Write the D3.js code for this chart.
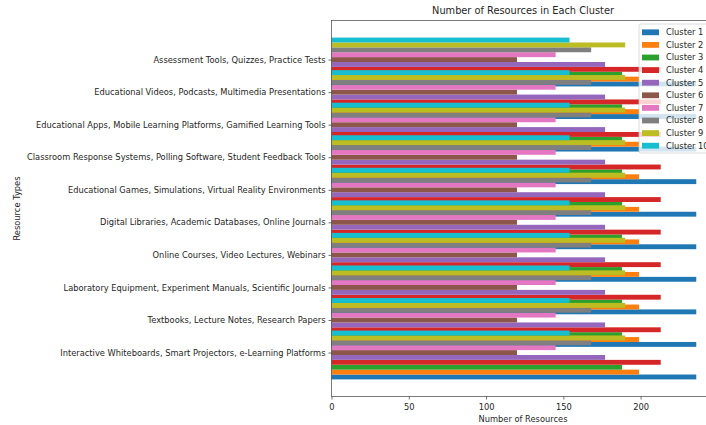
<!DOCTYPE html>
<html>
<head>
<meta charset="utf-8">
<script src="https://cdn.jsdelivr.net/npm/d3@7"></script>
<style>
  body { margin: 0; background: #fff; }
  svg { display: block; font-family: "DejaVu Sans", sans-serif; }
</style>
</head>
<body>
<svg id="chart" width="706" height="425"></svg>
<script>
var resourceTypes = [
  "Interactive Whiteboards, Smart Projectors, e-Learning Platforms",
  "Textbooks, Lecture Notes, Research Papers",
  "Laboratory Equipment, Experiment Manuals, Scientific Journals",
  "Online Courses, Video Lectures, Webinars",
  "Digital Libraries, Academic Databases, Online Journals",
  "Educational Games, Simulations, Virtual Reality Environments",
  "Classroom Response Systems, Polling Software, Student Feedback Tools",
  "Educational Apps, Mobile Learning Platforms, Gamified Learning Tools",
  "Educational Videos, Podcasts, Multimedia Presentations",
  "Assessment Tools, Quizzes, Practice Tests"
];

var clusters = ["Cluster 1", "Cluster 2", "Cluster 3", "Cluster 4", "Cluster 5",
                "Cluster 6", "Cluster 7", "Cluster 8", "Cluster 9", "Cluster 10"];

// one row per cluster, one value per resource type
var counts = [
  [236, 236, 236, 236, 236, 236, 236, 236, 236, 236],
  [199, 199, 199, 199, 199, 199, 199, 199, 199, 199],
  [188, 188, 188, 188, 188, 188, 188, 188, 188, 188],
  [213, 213, 213, 213, 213, 213, 213, 213, 213, 213],
  [177, 177, 177, 177, 177, 177, 177, 177, 177, 177],
  [120, 120, 120, 120, 120, 120, 120, 120, 120, 120],
  [145, 145, 145, 145, 145, 145, 145, 145, 145, 145],
  [168, 168, 168, 168, 168, 168, 168, 168, 168, 168],
  [190, 190, 190, 190, 190, 190, 190, 190, 190, 190],
  [154, 154, 154, 154, 154, 154, 154, 154, 154, 154]
];

var xTicks = [0, 50, 100, 150, 200];

var colors = d3.schemeCategory10;
var barWidth = 0.15;
var fontSize = 8.3;

var plotLeft = 331.5, plotRight = 714.5, plotTop = 20.5, plotBottom = 396.5;
var svg = d3.select("#chart");

var maxVal = d3.max(counts, function(r) { return d3.max(r); });
var x = d3.scaleLinear().domain([0, maxVal * 1.05]).range([plotLeft, plotRight]);

// bars sit at index + i * barWidth, like matplotlib barh offsets
var yLo = -barWidth / 2,
    yHi = (resourceTypes.length - 1) + (clusters.length - 1) * barWidth + barWidth / 2;
var pad = (yHi - yLo) * 0.05;
var y = d3.scaleLinear().domain([yLo - pad, yHi + pad]).range([plotBottom, plotTop]);

var plot = svg.append("g");
counts.forEach(function(row, i) {
  plot.selectAll(null)
    .data(row)
    .enter().append("rect")
    .attr("x", x(0))
    .attr("y", function(d, j) { return y(j + i * barWidth + barWidth / 2); })
    .attr("width", function(d) { return x(d) - x(0); })
    .attr("height", function(d, j) { return y(j + i * barWidth - barWidth / 2) - y(j + i * barWidth + barWidth / 2); })
    .attr("fill", colors[i]);
});

// axes
var xAxis = d3.axisBottom(x).tickValues(xTicks).tickSize(3).tickPadding(5);
var gx = svg.append("g").attr("transform", "translate(0," + plotBottom + ")").call(xAxis);
gx.select(".domain").remove();
gx.selectAll("text").attr("font-size", fontSize).attr("fill", "#262626").attr("font-family", "DejaVu Sans");
gx.selectAll("line").attr("stroke", "#333").attr("stroke-width", 0.7);

var tickPos = resourceTypes.map(function(d, j) { return j + barWidth * clusters.length / 2; });
var yAxis = d3.axisLeft(y).tickValues(tickPos)
  .tickFormat(function(d, j) { return resourceTypes[j]; })
  .tickSize(3).tickPadding(3);
var gy = svg.append("g").attr("transform", "translate(" + plotLeft + ",0)").call(yAxis);
gy.select(".domain").remove();
gy.selectAll("text").attr("font-size", fontSize).attr("fill", "#262626").attr("font-family", "DejaVu Sans");
gy.selectAll("line").attr("stroke", "#333").attr("stroke-width", 0.7);

// spines
svg.append("rect")
  .attr("x", plotLeft).attr("y", plotTop)
  .attr("width", plotRight - plotLeft).attr("height", plotBottom - plotTop)
  .attr("fill", "none").attr("stroke", "#444").attr("stroke-width", 0.7);

// labels
svg.append("text")
  .attr("x", (plotLeft + plotRight) / 2).attr("y", 14)
  .attr("text-anchor", "middle").attr("font-size", 9.8).attr("fill", "#262626")
  .text("Number of Resources in Each Cluster");

svg.append("text")
  .attr("x", (plotLeft + plotRight) / 2).attr("y", 421.5)
  .attr("text-anchor", "middle").attr("font-size", fontSize).attr("fill", "#262626")
  .text("Number of Resources");

svg.append("text")
  .attr("transform", "translate(20," + (plotTop + plotBottom) / 2 + ") rotate(-90)")
  .attr("text-anchor", "middle").attr("font-size", fontSize).attr("fill", "#262626")
  .text("Resource Types");

// legend
var legend = svg.append("g").attr("transform", "translate(639,24)");
legend.append("rect")
  .attr("width", 76).attr("height", 129).attr("rx", 2)
  .attr("fill", "#fff").attr("fill-opacity", 0.8)
  .attr("stroke", "#ccc").attr("stroke-width", 0.7);
var item = legend.selectAll(".item")
  .data(clusters)
  .enter().append("g")
  .attr("transform", function(d, i) { return "translate(0," + (8.3 + i * 12.6) + ")"; });
item.append("rect")
  .attr("x", 3).attr("y", -2.9).attr("width", 17).attr("height", 5.8)
  .attr("fill", function(d, i) { return colors[i]; });
item.append("text")
  .attr("x", 27).attr("dy", "0.35em")
  .attr("font-size", fontSize).attr("fill", "#262626")
  .text(function(d) { return d; });
</script>
</body>
</html>
